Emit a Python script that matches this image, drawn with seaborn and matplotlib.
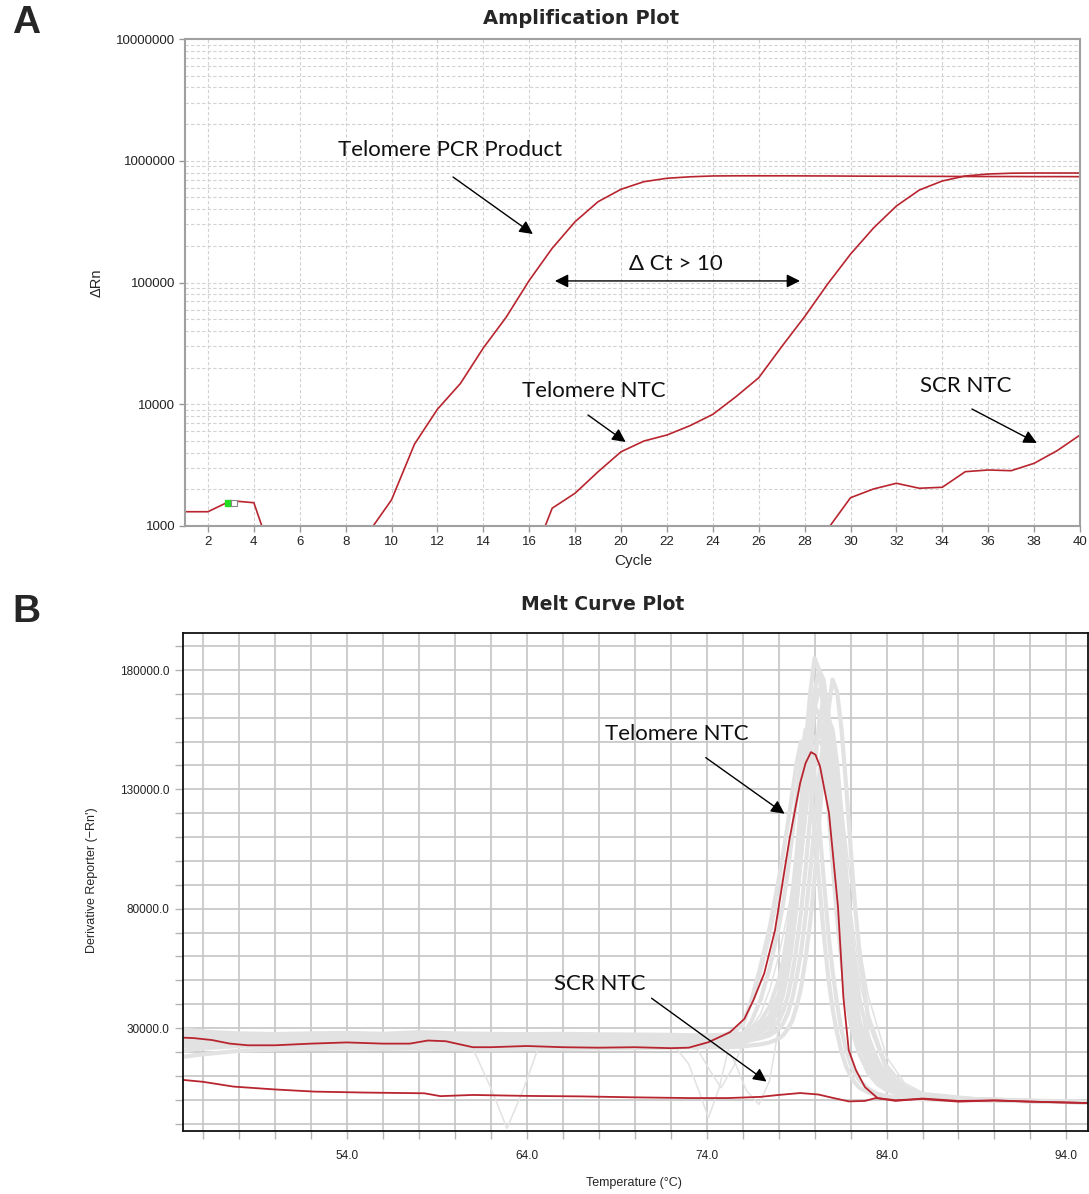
import numpy as np
import pandas as pd
import matplotlib
matplotlib.use('Agg')
import matplotlib.pyplot as plt
import matplotlib.ticker as mticker
import seaborn as sns

sns.set_theme(style='white')
plt.rcParams['font.family'] = ['Liberation Sans', 'DejaVu Sans']

nan = np.nan

# ---------------- A: amplification plot ----------------
cycles = list(range(1, 41))
# delta Rn per cycle (values hidden below 1000 left as nan)
pcr_product = [1310, 1310, 1614, 1553, 440, nan, nan, nan, 885, 1640,
               4700, 9100, 14800, 29000, 52000, 104000, 191000, 316000, 461000, 583000,
               673000, 718000, 738000, 750000, 752000, 752000, 752000, 751000, 750000, 748000,
               747000, 746000, 745000, 744000, 743000, 742000, 742000, 741000, 741000, 740000]
telomere_ntc = [nan] * 15 + [460, 1400, 1860, 2790, 4070, 4990, 5590, 6660, 8260, 11500,
                             16500, 29700, 52400, 97000, 171000, 280000, 425000, 575000, 682000, 750000,
                             778000, 790000, 793000, 793000, 793000]
scr_ntc = [nan] * 28 + [940, 1707, 2014, 2243, 2042, 2080, 2793, 2884, 2846, 3272, 4153, 5586]
marker_cycle = [2.87, 3.12]
marker_drn = [1550, 1550]

# ---------------- B: melt curve plot ----------------
melt_temps = [44.9, 46, 48, 50, 52, 54, 56, 58, 60, 62, 63, 64, 66, 68, 70, 72, 73, 74, 75, 76,
              76.5, 77, 77.5, 78, 78.25, 78.5, 78.75, 79, 79.25, 79.5, 79.75, 80, 80.25, 80.5, 80.75,
              81, 81.25, 81.5, 81.75, 82, 82.25, 82.5, 83, 83.5, 84, 84.5, 85, 86, 88, 90, 92, 95.2]
# sample wells, derivative reporter in thousands
well_1 = [29.5, 28.5, 27.8, 27.5, 27.8, 28.0, 27.6, 28.3, 27.8, 27.6, 27.5, 27.5, 27.6, 27.4, 27.3, 27.2, 27.0, 27.0, 27.2, 27.8,
          30, 33, 39, 50, 58, 70, 85, 103, 124, 148, 170, 185, 180, 163, 139, 111, 85, 65, 48, 35, 30, 24,
          14, 8.3, 5.5, 3.7, 2.2, 1.0, 0.3, 0, -0.5, -1.0]
well_2 = [18.0, 19.0, 20.5, 21.0, 21.2, 21.5, 21.3, 21.5, 21.2, 21.0, 21.0, 21.2, 21.3, 21.5, 21.6, 21.8, 22.0, 22.0, 22.0, 22.3,
          22.8, 23.2, 24, 25.5, 27, 29.5, 33, 39, 47, 59, 74, 93, 116, 140, 162, 176, 171, 155, 132, 106, 81, 62,
          33, 23, 13, 8, 5.3, 2.1, 0.5, 0, -0.5, -1.0]
well_3 = [27.0, 26.5, 26.0, 26.0, 26.3, 26.5, 26.2, 26.8, 26.3, 26.0, 26.0, 26.1, 26.2, 26.0, 26.0, 25.8, 25.6, 25.5, 25.5, 25.8,
          27.5, 29, 33, 40, 46, 55, 67, 83, 102, 124, 146, 164, 172, 167, 151, 129, 103, 79, 60, 45, 33, 27,
          17, 10, 6.5, 4.5, 3, 1.3, 0.3, -0.2, -0.6, -1.2]
well_4 = [22.5, 23.0, 23.5, 23.8, 24.0, 24.3, 24.0, 24.5, 24.0, 23.8, 23.8, 24.0, 24.1, 24.0, 24.0, 23.8, 23.7, 23.6, 23.6, 23.9,
          25, 26, 28.5, 33, 37, 43, 52, 64, 79, 97, 118, 139, 158, 168, 163, 148, 126, 101, 77, 59, 44, 33,
          22, 13, 8, 5, 3.3, 1.5, 0.4, 0, -0.5, -1.0]
well_5 = [25.0, 24.5, 24.8, 25.0, 25.3, 25.5, 25.0, 25.6, 25.2, 25.0, 25.0, 25.1, 25.2, 25.1, 25.0, 24.9, 24.8, 24.7, 24.6, 24.8,
          25.3, 25.8, 27, 29.5, 32, 36, 42, 51, 62, 77, 95, 115, 135, 151, 160, 155, 141, 120, 96, 74, 56, 42,
          26, 16, 10, 6.5, 4.5, 2, 0.5, 0, -0.4, -0.8]
well_6 = [20.5, 21.5, 22.5, 22.5, 22.8, 23.0, 22.8, 23.2, 22.8, 22.6, 22.6, 22.7, 22.8, 22.7, 22.6, 22.5, 22.6, 23.0, 24.0, 27.0,
          33, 42, 55, 72, 82, 95, 110, 127, 143, 155, 150, 136, 116, 93, 71, 54, 40, 29, 21, 15, 11, 8,
          4.5, 2.5, 1.5, 1, 0.6, 0.3, 0, -0.3, -0.6, -1.0]
well_7 = [24.0, 23.5, 23.6, 24.0, 24.2, 24.5, 24.0, 24.7, 24.3, 24.0, 24.0, 24.2, 24.3, 24.2, 24.1, 24.0, 24.3, 25.0, 27.0, 31.0,
          42, 56, 72, 92, 103, 115, 128, 141, 150, 146, 133, 113, 91, 70, 52, 38, 28, 20, 14, 10, 7, 5,
          3, 1.8, 1.2, 0.8, 0.5, 0.2, 0, -0.3, -0.6, -1.0]
well_8 = [28.0, 27.2, 26.8, 26.8, 27.0, 27.2, 27.0, 27.5, 27.0, 26.8, 26.7, 26.8, 26.9, 26.7, 26.6, 26.5, 26.4, 26.3, 26.4, 27.0,
          29, 31, 35, 44, 51, 61, 75, 93, 113, 134, 153, 165, 161, 146, 124, 99, 76, 58, 43, 32, 25, 19,
          11, 6.5, 4, 2.8, 1.8, 0.8, 0.2, -0.2, -0.6, -1.1]
well_9 = [26.5, 26.0, 25.5, 25.3, 25.6, 25.8, 25.5, 26.0, 25.6, 25.4, 25.3, 25.4, 25.5, 25.4, 25.3, 25.2, 25.1, 25.0, 25.1, 25.6,
          26.5, 28, 31, 38, 44, 53, 65, 82, 103, 127, 152, 171, 180, 176, 162, 140, 115, 90, 69, 52, 39, 30,
          18, 11, 7, 4.5, 3, 1.3, 0.3, -0.2, -0.6, -1.1]

# wells with a dip in the baseline
dip1_temps = [44.9, 48, 52, 56, 60, 61, 62, 62.9, 63.8, 64.6, 66, 70, 74, 76, 77, 77.5, 78, 78.5, 79, 79.5,
              80, 80.5, 81, 81.5, 82, 82.5, 83, 84, 85, 86, 90, 95.2]
dip1 = [21, 22.5, 22.8, 23, 22.5, 21.5, 5, -12, 4, 21, 23, 23, 23, 24, 26, 29, 36, 52, 80, 115,
        148, 162, 150, 112, 72, 44, 26, 10, 4, 1.5, 0, -1]
dip2_temps = [44.9, 50, 56, 62, 68, 71, 72, 73, 73.6, 74.1, 74.7, 75.3, 76, 76.5, 77, 77.5, 78, 78.5, 79, 79.5,
              80, 80.5, 81, 81.5, 82, 82.5, 83, 84, 85, 86, 90, 95.2]
dip2 = [24, 25, 25.5, 25, 25, 25, 24.5, 15, 3, -7.5, 5, 24, 32, 40, 52, 67, 85, 104, 125, 142,
        152, 147, 128, 100, 72, 50, 33, 14, 6, 2.5, 0, -1]
dip3_temps = [44.9, 50, 56, 62, 68, 72, 74, 75, 75.6, 76.2, 76.9, 77.5, 78, 78.5, 79, 79.5, 80, 80.5, 81, 81.5,
              82, 82.5, 83, 84, 85, 86, 90, 95.2]
dip3 = [26, 26.5, 26.5, 26.5, 26.3, 26, 26, 24, 15, 4, -2, 8, 30, 62, 98, 130, 152, 157, 142, 112,
        80, 54, 36, 15, 6, 2.5, 0, -1]
dip4_temps = [44.9, 50, 56, 62, 68, 72, 73.5, 74.2, 74.8, 75.5, 76.2, 77, 77.5, 78, 78.5, 79, 79.5, 80, 80.5, 81,
              81.5, 82, 82.5, 83, 84, 85, 86, 90, 95.2]
dip4 = [22, 23, 23.5, 23.2, 23, 23, 21, 12, 5, 14, 27, 36, 46, 60, 78, 100, 124, 146, 158, 150,
        124, 92, 64, 43, 18, 7, 3, 0, -1]

ntc_melt_temps = [44.9, 45.5, 46.5, 47.5, 48.5, 50, 52, 54, 56, 57.5, 58.5, 59.5, 61, 62, 64, 66, 68, 70, 72, 73,
                  74.1, 75.3, 76.1, 76.6, 77.2, 77.8, 78.6, 79.2, 79.5, 79.8, 80.05, 80.3, 80.8, 81.3, 81.6, 81.9,
                  82.3, 82.8, 83.5, 84.5, 86, 88, 90, 92, 95.2]
ntc_melt = [26, 25.8, 25, 23.5, 22.8, 22.8, 23.5, 24, 23.5, 23.5, 24.8, 24.5, 22, 22, 22.5, 22, 21.8, 22, 21.6, 21.8,
            24.1, 28.3, 33.9, 41.7, 52.9, 71, 108.9, 132.7, 141, 145.6, 144.5, 139.7, 120.1, 80.9, 43.1, 20.7,
            12.4, 5.3, 0.7, -0.5, 0.5, -0.5, -0.3, -0.8, -1.4]
scr_melt_temps = [44.9, 46, 47.7, 50, 52.2, 55, 58.3, 59.2, 61, 64, 67, 70, 73, 75.2, 77, 78, 79.2, 80.2, 81, 81.9,
                  82.8, 83.4, 84.5, 86, 88, 90, 92, 95.2]
scr_melt = [8.3, 7.5, 5.5, 4.3, 3.4, 3.0, 2.7, 1.5, 2.0, 1.6, 1.4, 1.0, 0.7, 0.7, 1.2, 2.0, 2.8, 2.2, 0.8, -0.7,
            -0.5, 0.7, -0.2, 0.3, -0.8, -0.3, -0.8, -1.4]

RED = '#b8252f'
GREY = '#e2e2e2'
ANNOT_FONT = 'Lato'

W, H = 1089, 1194
fig = plt.figure(figsize=(W / 100, H / 100), dpi=100)
ax1 = fig.add_axes([185 / W, 1 - 526 / H, 895 / W, 487 / H])
ax2 = fig.add_axes([183 / W, 1 - 1131 / H, 905 / W, 498 / H])

# ---- amplification
amp = pd.DataFrame({
    'cycle': cycles * 3,
    'drn': pcr_product + telomere_ntc + scr_ntc,
    'well': ['pcr'] * 40 + ['ntc'] * 40 + ['scr'] * 40,
})
ax1.set_yscale('log')
sns.lineplot(data=amp, x='cycle', y='drn', units='well', estimator=None,
             color=RED, lw=1.2, ax=ax1, legend=False)
ax1.plot(marker_cycle[0], marker_drn[0], 's', color='#22dd22', ms=5, zorder=5)
ax1.plot(marker_cycle[1], marker_drn[1], 's', mfc='white', mec='#888888', mew=0.8, ms=5, zorder=5)

ax1.set_xlim(1, 40)
ax1.set_ylim(1000, 1e7)
ax1.set_xticks(range(2, 41, 2))
ax1.yaxis.set_major_locator(mticker.LogLocator(base=10))
ax1.yaxis.set_minor_locator(mticker.LogLocator(base=10, subs=range(2, 10)))
ax1.yaxis.set_major_formatter(mticker.FuncFormatter(lambda v, p: f'{int(round(v))}'))
ax1.yaxis.set_minor_formatter(mticker.NullFormatter())
ax1.grid(which='both', ls=(0, (3, 2)), color='#d2d2d2', lw=0.8)
ax1.set_axisbelow(True)
ax1.tick_params(which='major', bottom=True, left=True, length=4, width=1, color='#999999',
                labelsize=9.5, pad=3, labelcolor='#222222')
ax1.tick_params(which='minor', left=False, length=0)
for s in ax1.spines.values():
    s.set_color('#a0a0a0')
    s.set_linewidth(1.5)
ax1.set_xlabel('')
ax1.set_ylabel('')

# arrows / labels in panel A
akw = dict(fontsize=16, family=ANNOT_FONT, ha='center', va='center', color='#111111')
arrow = dict(arrowstyle='-|>', mutation_scale=20, lw=1.0, color='black', shrinkA=0, shrinkB=0)
ax1.text(12.55, 1.22e6, 'Telomere PCR Product', **akw)
ax1.annotate('', xy=(16.16, 2.5e5), xytext=(12.68, 7.35e5), arrowprops=arrow)
ax1.text(22.4, 1.42e5, 'Δ Ct > 10', **akw)
ax1.annotate('', xy=(27.8, 1.03e5), xytext=(17.12, 1.03e5),
             arrowprops=dict(arrow, arrowstyle='<|-|>'))
ax1.text(18.8, 1.29e4, 'Telomere NTC', **akw)
ax1.annotate('', xy=(20.2, 4.9e3), xytext=(18.56, 8.16e3), arrowprops=arrow)
ax1.text(35.03, 1.41e4, 'SCR NTC', **akw)
ax1.annotate('', xy=(38.12, 4.81e3), xytext=(35.29, 9.14e3), arrowprops=arrow)

# ---- melt curve
grey_df = pd.DataFrame({'w1': well_1, 'w2': well_2, 'w3': well_3, 'w4': well_4, 'w5': well_5,
                        'w6': well_6, 'w7': well_7, 'w8': well_8, 'w9': well_9},
                       index=melt_temps) * 1000
sns.lineplot(data=grey_df, palette=[GREY] * 9, dashes=False, lw=3.0, ax=ax2, legend=False)
for t, v in [(dip1_temps, dip1), (dip2_temps, dip2), (dip3_temps, dip3), (dip4_temps, dip4)]:
    sns.lineplot(x=t, y=np.array(v) * 1000, color=GREY, lw=1.1, ax=ax2)
sns.lineplot(x=ntc_melt_temps, y=np.array(ntc_melt) * 1000, color=RED, lw=1.3, ax=ax2)
sns.lineplot(x=scr_melt_temps, y=np.array(scr_melt) * 1000, color=RED, lw=1.3, ax=ax2)

ax2.set_xlim(44.89, 95.2)
ax2.set_ylim(-13100, 195500)
ax2.set_xticks([54, 64, 74, 84, 94])
ax2.set_xticks(np.arange(46, 95, 2), minor=True)
ax2.set_yticks([30000, 80000, 130000, 180000])
ax2.set_yticks(np.arange(-10000, 195000, 10000), minor=True)
ax2.xaxis.set_major_formatter(mticker.FormatStrFormatter('%.1f'))
ax2.yaxis.set_major_formatter(mticker.FormatStrFormatter('%.1f'))
ax2.grid(which='both', color='#c9c9c9', lw=1.3)
ax2.set_axisbelow(True)
ax2.tick_params(which='both', bottom=True, left=True, direction='out', length=6, width=1,
                color='#b5b5b5', labelsize=8.5, labelcolor='#222222')
ax2.tick_params(axis='x', which='major', pad=8)
ax2.tick_params(axis='y', which='major', pad=4)
for s in ax2.spines.values():
    s.set_color('#111111')
    s.set_linewidth(1.3)
ax2.set_xlabel('')
ax2.set_ylabel('')

ax2.text(72.33, 153400, 'Telomere NTC', **akw)
ax2.annotate('', xy=(78.33, 119800), xytext=(73.95, 143300), arrowprops=arrow)
ax2.text(68.06, 48400, 'SCR NTC', **akw)
ax2.annotate('', xy=(77.33, 7600), xytext=(70.94, 42500), arrowprops=arrow)

# ---- titles and axis labels
fig.text(581 / W, 1 - 18 / H, 'Amplification Plot', ha='center', va='center',
         fontsize=14, weight='bold', family='DejaVu Sans')
fig.text(603 / W, 1 - 605 / H, 'Melt Curve Plot', ha='center', va='center',
         fontsize=13.5, weight='bold', family='DejaVu Sans')
fig.text(26 / W, 1 - 23 / H, 'A', ha='center', va='center', fontsize=28, weight='bold')
fig.text(26 / W, 1 - 612 / H, 'B', ha='center', va='center', fontsize=28, weight='bold')
fig.text(97 / W, 1 - 283 / H, 'ΔRn', ha='center', va='center', rotation=90, fontsize=10.5)
fig.text(633 / W, 1 - 561 / H, 'Cycle', ha='center', va='center', fontsize=11)
fig.text(92 / W, 1 - 880 / H, "Derivative Reporter (−Rn')", ha='center', va='center',
         rotation=90, fontsize=9)
fig.text(634 / W, 1 - 1183 / H, 'Temperature (°C)', ha='center', va='center', fontsize=9)

fig.savefig('out.png', dpi=100)
